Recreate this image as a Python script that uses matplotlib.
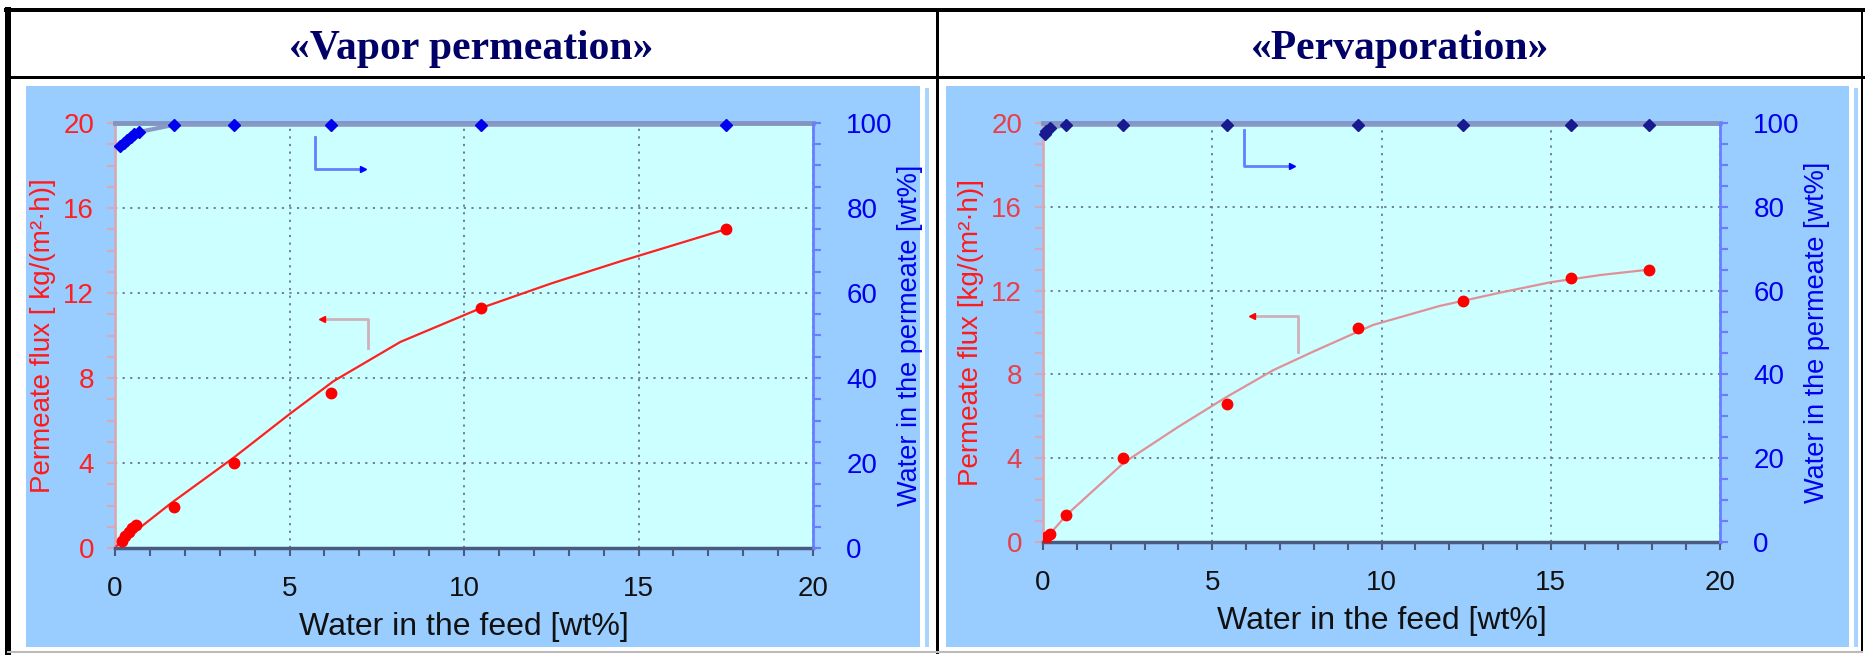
import matplotlib
matplotlib.use("Agg")
import matplotlib.pyplot as plt
from matplotlib.lines import Line2D
from matplotlib.patches import Rectangle
from matplotlib.ticker import MultipleLocator

W, H = 1867, 656

# ---- data ----
# Vapor permeation
vp_feed = [0.2, 0.3, 0.4, 0.5, 0.6, 1.7, 3.4, 6.2, 10.5, 17.5]
vp_flux = [0.35, 0.55, 0.75, 0.95, 1.1, 1.95, 4.0, 7.3, 11.3, 15.0]
vp_fit_feed = [0.05, 1.6, 3.4, 5.0, 6.26, 8.18, 10.5, 12.5, 14.5, 16.2, 17.5]
vp_fit_flux = [0.1, 2.1, 4.25, 6.3, 7.85, 9.7, 11.3, 12.45, 13.5, 14.35, 15.0]
vp_perm_feed = [0.15, 0.25, 0.35, 0.45, 0.55, 0.7, 1.7, 3.4, 6.2, 10.5, 17.5]
vp_perm_water = [94.5, 95.3, 96.0, 96.7, 97.3, 97.9, 99.6, 99.6, 99.6, 99.6, 99.6]

# Pervaporation
pv_feed = [0.05, 0.1, 0.2, 0.67, 2.37, 5.43, 9.31, 12.4, 15.6, 17.9]
pv_flux = [0.1, 0.25, 0.4, 1.3, 4.0, 6.6, 10.2, 11.5, 12.6, 13.0]
pv_fit_feed = [0.05, 0.7, 2.4, 4.0, 5.4, 6.8, 8.0, 9.75, 11.7, 13.5, 15.0, 16.5, 17.9]
pv_fit_flux = [0.1, 1.3, 3.8, 5.5, 6.9, 8.2, 9.1, 10.36, 11.26, 11.9, 12.4, 12.75, 13.0]
pv_perm_feed = [0.05, 0.1, 0.2, 0.67, 2.37, 5.43, 9.31, 12.4, 15.6, 17.9]
pv_perm_water = [97.3, 98.0, 98.7, 99.6, 99.6, 99.6, 99.6, 99.6, 99.6, 99.6]

titles = ["«Vapor permeation»", "«Pervaporation»"]
flux_labels = ["Permeate flux [ kg/(m²·h)]", "Permeate flux [kg/(m²·h)]"]
perm_label = "Water in the permeate [wt%]"
feed_label = "Water in the feed [wt%]"

SANS = "Liberation Sans"
PANEL_BG = "#99CCFF"
AX_BG = "#CCFFFF"


def px_box(x0, y0, x1, y1):
    return [x0 / W, 1 - y1 / H, (x1 - x0) / W, (y1 - y0) / H]


def draw_panel(fig, box, feed, flux, fit_x, fit_y, pfeed, pwater, style):
    ax = fig.add_axes(px_box(*box))
    ax.set_facecolor(AX_BG)
    ax.set_xlim(0, 20)
    ax.set_ylim(0, 20)
    ax.xaxis.set_major_locator(MultipleLocator(5))
    ax.xaxis.set_minor_locator(MultipleLocator(1))
    ax.yaxis.set_major_locator(MultipleLocator(4))
    ax.yaxis.set_minor_locator(MultipleLocator(1))
    ax.grid(True, which="major", color="#6a7590", linestyle=(0, (1.2, 3)), lw=1.3)
    ax.set_axisbelow(True)

    ax.tick_params(axis="x", which="both", direction="out", colors="#4a5a80",
                   labelcolor="#111111", labelsize=20, pad=14, length=6, width=1.5)
    ax.tick_params(axis="y", which="both", direction="out", colors=style["ytick"],
                   labelcolor=style["ylab"], labelsize=20, pad=9, length=6, width=1.5)
    for lab in ax.get_xticklabels() + ax.get_yticklabels():
        lab.set_family(SANS)

    ax.spines["bottom"].set_color("#4a5a80")
    ax.spines["bottom"].set_linewidth(2.5)
    ax.spines["left"].set_color(style["ytick"])
    ax.spines["left"].set_linewidth(2)
    ax.spines["top"].set_color("#8494c0")
    ax.spines["top"].set_linewidth(3.5)
    ax.spines["right"].set_visible(False)

    ax.set_xlabel(feed_label, family=SANS, fontsize=23, color="#111111", labelpad=7)
    ax.set_ylabel(style["flabel"], family=SANS, fontsize=20, color="#ff1a1a", labelpad=5)

    ax.plot(fit_x, fit_y, color=style["fit"], lw=1.6, zorder=3)
    ax.plot(feed, flux, "o", color="#ff0000", ms=7.5, zorder=4)

    # bracket arrow pointing at the flux axis
    bx, by0, by1, bx_end = style["red_arrow"]
    ax.plot([bx, bx, bx_end], [by0, by1, by1], color="#d0b0b8", lw=2, zorder=3)
    ax.plot([bx_end], [by1], "<", color="#ff0000", ms=5, zorder=4)

    ax2 = ax.twinx()
    ax2.set_ylim(0, 100)
    ax2.yaxis.set_major_locator(MultipleLocator(20))
    ax2.yaxis.set_minor_locator(MultipleLocator(5))
    ax2.tick_params(axis="y", which="both", direction="out", colors="#6a7cff",
                    labelcolor="#0000ee", labelsize=20, pad=18, length=6, width=1.5)
    for lab in ax2.get_yticklabels():
        lab.set_family(SANS)
    for s in ("top", "bottom", "left"):
        ax2.spines[s].set_visible(False)
    ax2.spines["right"].set_color("#6a7cff")
    ax2.spines["right"].set_linewidth(2)
    ax2.set_ylabel(perm_label, family=SANS, fontsize=19.5, color="#0000ee", labelpad=3)

    ax2.plot(pfeed, pwater, color="#8898c8", lw=3, zorder=3, clip_on=False)
    ax2.plot(pfeed, pwater, "D", color=style["blue"], ms=6, zorder=4, clip_on=False)

    ax_x, ay0, ay1, ax_end = style["blue_arrow"]
    ax2.plot([ax_x, ax_x, ax_end], [ay0, ay1, ay1], color="#6080ff", lw=2, zorder=3)
    ax2.plot([ax_end], [ay1], ">", color="#0000ff", ms=5, zorder=4)
    return ax


fig = plt.figure(figsize=(W / 100, H / 100), dpi=100)
fig.patch.set_facecolor("white")

# panel backgrounds
for x0, x1 in [(26, 920), (946, 1849)]:
    fig.add_artist(Rectangle((x0 / W, 1 - 647 / H), (x1 - x0) / W, (647 - 86) / H,
                             transform=fig.transFigure, facecolor=PANEL_BG,
                             edgecolor="none", zorder=0))
    fig.add_artist(Rectangle(((x1 + 5) / W, 1 - 647 / H), 4 / W, (647 - 88) / H,
                             transform=fig.transFigure, facecolor="#a8d4ff",
                             edgecolor="none", zorder=0))

# table frame
frame = [((6, 10), (1863, 10), 4), ((8, 10), (8, 652), 6), ((937, 10), (937, 652), 3),
         ((6, 77), (1863, 77), 3), ((1862, 10), (1862, 652), 2)]
for (xa, ya), (xb, yb), lw in frame:
    fig.add_artist(Line2D([xa / W, xb / W], [1 - ya / H, 1 - yb / H], color="black",
                          lw=lw * 0.72, transform=fig.transFigure))
fig.add_artist(Line2D([8 / W, 1862 / W], [1 - 652 / H, 1 - 652 / H], color="#bbbbbb",
                      lw=1.5, transform=fig.transFigure))

for cx, t in zip([471, 1400], titles):
    fig.text(cx / W, 1 - 49 / H, t, ha="center", va="center", family="Liberation Serif",
             fontsize=30, fontweight="bold", color="#000066")

draw_panel(fig, (115, 123, 813, 548), vp_feed, vp_flux, vp_fit_feed, vp_fit_flux,
           vp_perm_feed, vp_perm_water,
           dict(ytick="#d8a8b8", ylab="#ff2020", fit="#ff2020", blue="#0000ee",
                flabel=flux_labels[0], red_arrow=(7.26, 9.4, 10.8, 5.94),
                blue_arrow=(5.74, 96.7, 89.2, 7.12)))
draw_panel(fig, (1043, 123, 1720, 542), pv_feed, pv_flux, pv_fit_feed, pv_fit_flux,
           pv_perm_feed, pv_perm_water,
           dict(ytick="#d8a8b8", ylab="#e8404a", fit="#e09098", blue="#1a1a90",
                flabel=flux_labels[1], red_arrow=(7.53, 9.07, 10.8, 6.17),
                blue_arrow=(5.94, 98.3, 89.7, 7.36)))

fig.savefig("out.png", dpi=100)
